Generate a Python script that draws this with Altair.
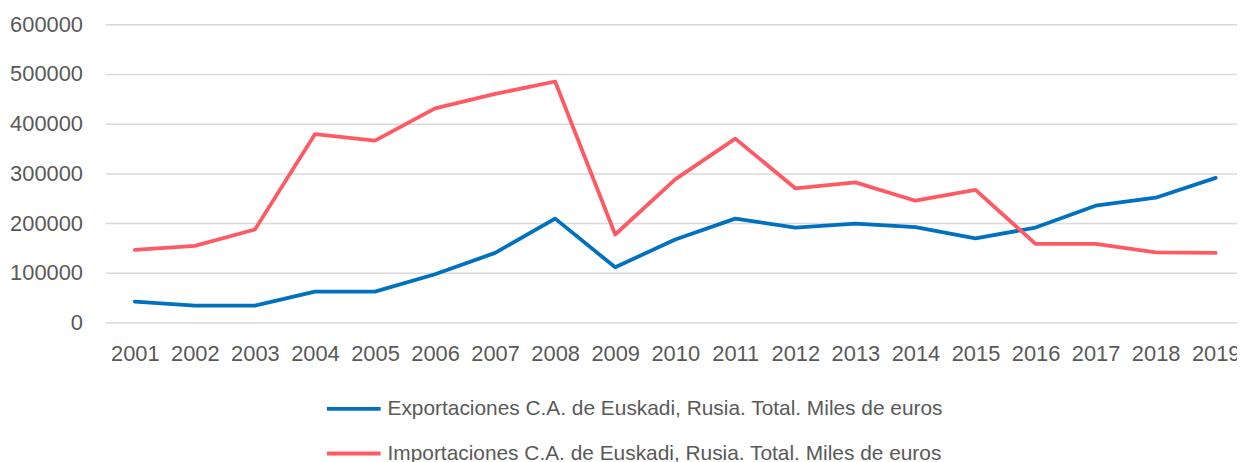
import altair as alt
import pandas as pd

years = list(range(2001, 2020))
exportaciones = [42000, 34000, 34000, 62000, 62000, 97000, 140000, 209000, 111000,
                 167000, 209000, 191000, 199000, 192000, 169000, 191000, 235000,
                 251000, 291000]
importaciones = [146000, 154000, 187000, 379000, 366000, 431000, 460000, 485000,
                 177000, 288000, 370000, 270000, 282000, 245000, 267000, 158000,
                 158000, 141000, 140000]
series_names = [
    "Exportaciones C.A. de Euskadi, Rusia. Total. Miles de euros",
    "Importaciones C.A. de Euskadi, Rusia. Total. Miles de euros",
]
colors = ["#0070C0", "#FF5A64"]
y_ticks = [0, 100000, 200000, 300000, 400000, 500000, 600000]

rows = []
for name, vals in zip(series_names, [exportaciones, importaciones]):
    for yr, v in zip(years, vals):
        rows.append({"year": yr, "value": v, "serie": name})
df = pd.DataFrame(rows)

FONT = "Liberation Sans"
GRAY = "#595959"

chart = alt.Chart(df).mark_line(
    strokeWidth=3.8, strokeCap="round", strokeJoin="round"
).encode(
    x=alt.X(
        "year:Q",
        scale=alt.Scale(domain=[2000.51, 2019.355], nice=False, zero=False),
        axis=alt.Axis(
            values=years, format="d", title=None, grid=False, domain=False,
            ticks=False, labelPadding=21, labelFontSize=22, labelColor=GRAY,
            labelFont=FONT, labelOverlap=False, labelFlush=False,
        ),
    ),
    y=alt.Y(
        "value:Q",
        scale=alt.Scale(domain=[0, 600000], nice=False),
        axis=alt.Axis(
            values=y_ticks, format="d", title=None, domain=False, ticks=False,
            grid=True, gridColor="#d9d9d9", gridWidth=1.5, labelPadding=23,
            labelFontSize=22, labelColor=GRAY, labelFont=FONT,
        ),
    ),
    color=alt.Color(
        "serie:N",
        scale=alt.Scale(domain=series_names, range=colors),
        legend=alt.Legend(
            orient="none", legendX=221, legendY=358, direction="vertical",
            symbolType="stroke", symbolSize=2916, symbolStrokeWidth=4,
            labelOffset=5, rowPadding=6, padding=0, title=None,
            labelFontSize=21, labelColor=GRAY, labelFont=FONT, labelLimit=1000,
        ),
    ),
).properties(
    width=1139,
    height=300,
    autosize=alt.AutoSizeParams(type="none"),
    padding={"left": 98, "top": 15, "right": 0, "bottom": 139},
).configure_view(stroke=None)

chart.save("out.html", embed_options={"renderer": "svg", "actions": False})
